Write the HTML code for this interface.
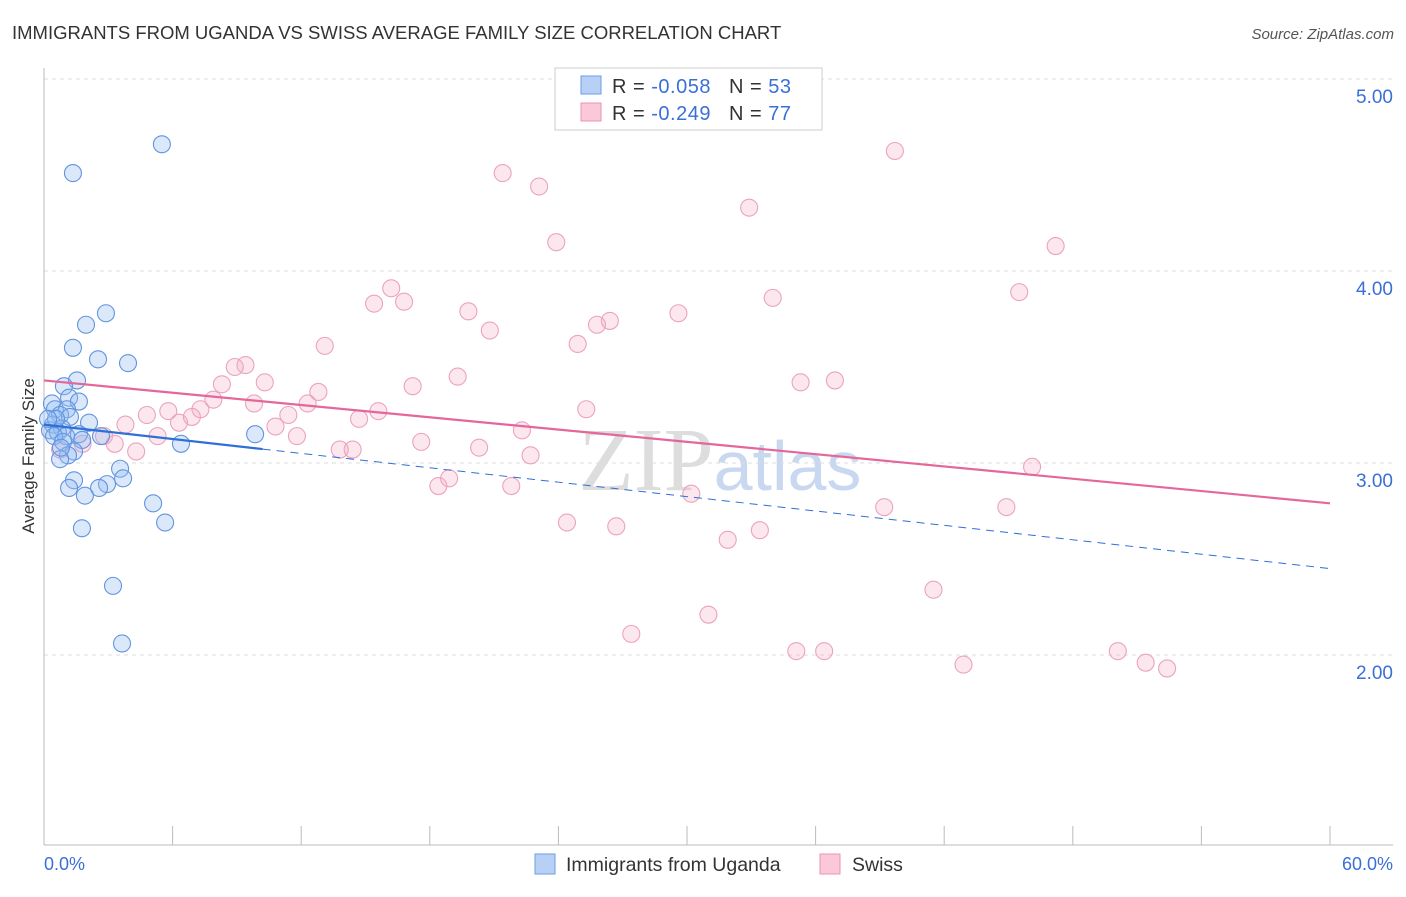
<!DOCTYPE html>
<html><head><meta charset="utf-8"><style>
body{margin:0;background:#fff;font-family:"Liberation Sans",sans-serif;}
</style></head><body>
<svg width="1406" height="892" xmlns="http://www.w3.org/2000/svg" style="font-family:'Liberation Sans',sans-serif">
<text x="12" y="39" font-size="18.5" fill="#333">IMMIGRANTS FROM UGANDA VS SWISS AVERAGE FAMILY SIZE CORRELATION CHART</text>
<text x="1394" y="39" font-size="15" fill="#555" text-anchor="end" font-style="italic">Source: ZipAtlas.com</text>
<text x="720" y="490" font-size="90" fill="#ddd" text-anchor="middle" font-family="Liberation Serif">ZIP<tspan fill="#c8d8f0" font-family="Liberation Sans" font-size="70">atlas</tspan></text>
<g id="grid"></g>
<line x1="44" y1="68" x2="44" y2="845" stroke="#bbb"/>
<line x1="44" y1="845" x2="1393" y2="845" stroke="#bbb"/>
<g id="ticks"></g>
<text x="34" y="456" font-size="17" fill="#333" text-anchor="middle" transform="rotate(-90 34 456)">Average Family Size</text>
<text x="44" y="870" font-size="18" fill="#3a6fd8">0.0%</text>
<text x="1393" y="870" font-size="18" fill="#3a6fd8" text-anchor="end">60.0%</text>
<g id="pts"></g>
<g id="trend"></g>
<g>
<rect x="555" y="68" width="267" height="62" fill="#fff" stroke="#ccc"/>
<rect x="581" y="76" width="20" height="18" fill="#b8d0f5" stroke="#6d9be6"/>
<rect x="581" y="103" width="20" height="18" fill="#fbc8d8" stroke="#eb94b2"/>
<text x="612" y="93" font-size="20" fill="#333" letter-spacing="0.5">R = <tspan fill="#3a6fd8">-0.058</tspan><tspan dx="18">N = </tspan><tspan fill="#3a6fd8">53</tspan></text>
<text x="612" y="120" font-size="20" fill="#333" letter-spacing="0.5">R = <tspan fill="#3a6fd8">-0.249</tspan><tspan dx="18">N = </tspan><tspan fill="#3a6fd8">77</tspan></text>
</g>
<g>
<rect x="535" y="854" width="20" height="20" fill="#b8d0f5" stroke="#6d9be6"/>
<text x="566" y="871" font-size="19.5" fill="#333">Immigrants from Uganda</text>
<rect x="820" y="854" width="20" height="20" fill="#fbc8d8" stroke="#eb94b2"/>
<text x="852" y="871" font-size="19.5" fill="#333">Swiss</text>
</g>
</svg>
<script>
const yTicks=[5,4,3,2];
const yTickLabels=["5.00","4.00","3.00","2.00"];
const xTicks=[0,6,12,18,24,30,36,42,48,54,60];
const blueX=[5.5,1.35,1.96,2.89,1.35,2.52,3.92,1.54,0.93,1.17,1.63,0.37,0.51,1.07,0.75,1.21,2.10,0.42,0.84,0.28,0.65,1.63,1.03,0.47,2.66,9.85,0.89,1.78,6.39,1.40,1.12,0.75,3.55,3.69,1.40,1.17,2.94,2.57,1.91,5.09,5.65,1.77,3.22,3.64,0.56,0.19,0.79];
const blueY=[4.66,4.51,3.72,3.78,3.60,3.54,3.52,3.43,3.40,3.34,3.32,3.31,3.28,3.28,3.25,3.24,3.21,3.20,3.18,3.17,3.16,3.15,3.14,3.14,3.14,3.15,3.11,3.12,3.10,3.06,3.04,3.02,2.97,2.92,2.91,2.87,2.89,2.87,2.83,2.79,2.69,2.66,2.36,2.06,3.23,3.23,3.08];
const pinkX=[39.7,21.4,23.1,32.9,23.9,47.2,16.2,15.4,16.8,34.0,45.5,19.8,29.6,26.4,25.8,20.8,24.9,13.1,9.4,8.9,19.3,10.3,8.3,17.2,35.3,36.9,12.8,7.9,9.8,12.3,7.3,5.8,4.8,15.6,11.4,25.3,6.9,6.3,14.7,3.8,10.8,22.3,5.3,11.8,2.8,17.6,3.3,1.8,20.3,13.8,14.4,4.3,0.75,22.7,46.1,18.9,18.4,21.8,30.2,39.2,44.9,24.4,26.7,33.4,31.9,41.5,31.0,27.4,35.1,36.4,50.1,42.9,51.4,52.4];
const pinkY=[4.625,4.51,4.44,4.33,4.15,4.13,3.91,3.83,3.84,3.86,3.89,3.79,3.78,3.74,3.72,3.69,3.62,3.61,3.51,3.50,3.45,3.42,3.41,3.40,3.42,3.43,3.37,3.33,3.31,3.31,3.28,3.27,3.25,3.27,3.25,3.28,3.24,3.21,3.23,3.20,3.19,3.17,3.14,3.14,3.14,3.11,3.10,3.10,3.08,3.07,3.07,3.06,3.07,3.04,2.98,2.92,2.88,2.88,2.84,2.77,2.77,2.69,2.67,2.65,2.60,2.34,2.21,2.11,2.02,2.02,2.02,1.95,1.96,1.93];
const blueTrend=[3.20,2.45];
const pinkTrend=[3.43,2.79];
const blueSolidEnd=10.2;
const NS="http://www.w3.org/2000/svg";
const X=v=>44+v*(1286/60);
const Y=v=>79+(5-v)*192;
function mk(p,t,a){const e=document.createElementNS(NS,t);for(const k in a)e.setAttribute(k,a[k]);document.getElementById(p).appendChild(e);return e;}
yTicks.forEach((t,i)=>{
 const l=mk('grid','line',{x1:44,x2:1393,y1:Y(t),y2:Y(t),stroke:'#ddd','stroke-dasharray':'4,4'});
 
 
 const tx=mk('grid','text',{x:1393,y:Y(t)+24,'font-size':19,fill:'#3a6fd8','text-anchor':'end'});
 tx.textContent=yTickLabels[i];
 
 
});
xTicks.forEach(t=>{
 const l=mk('ticks','line',{x1:X(t),x2:X(t),y1:826,y2:845,stroke:'#bbb'});
 
 
});
pinkX.forEach((x,i)=>{
 const c=mk('pts','circle',{cx:X(x),cy:Y(pinkY[i]),r:8.5,fill:'rgba(246,170,196,0.28)',stroke:'#eba3bd','stroke-width':1.1});
 
 
});
blueX.forEach((x,i)=>{
 const c=mk('pts','circle',{cx:X(x),cy:Y(blueY[i]),r:8.5,fill:'rgba(150,188,240,0.35)',stroke:'#6294e0','stroke-width':1.1});
 
 
});
const bAt=x=>blueTrend[0]+(blueTrend[1]-blueTrend[0])*x/60;
let l=mk('trend','line',{x1:X(0),y1:Y(pinkTrend[0]),x2:X(60),y2:Y(pinkTrend[1]),stroke:'#e4679a','stroke-width':2.2});


l=mk('trend','line',{x1:X(0),y1:Y(bAt(0)),x2:X(blueSolidEnd),y2:Y(bAt(blueSolidEnd)),stroke:'#2f6fd6','stroke-width':2.2});


l=mk('trend','line',{x1:X(blueSolidEnd),y1:Y(bAt(blueSolidEnd)),x2:X(60),y2:Y(bAt(60)),stroke:'#2f6fd6','stroke-width':1,'stroke-dasharray':'8,6'});


</script>
</body></html>
